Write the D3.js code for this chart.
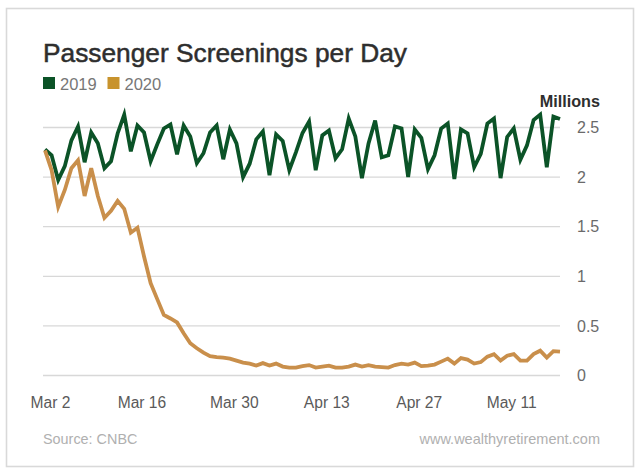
<!DOCTYPE html>
<html>
<head>
<meta charset="utf-8">
<title>Passenger Screenings per Day</title>
<style>
  html, body { margin: 0; padding: 0; background: #fff; }
  text { font-family: "Liberation Sans", sans-serif; }
  .axis path, .axis line { display: none; }
</style>
<script src="https://d3js.org/d3.v7.min.js"></script>
</head>
<body>
<svg width="640" height="472"></svg>
<script>
var series2019 = [2.28,2.22,1.97,2.11,2.37,2.51,2.15,2.45,2.34,2.09,2.16,2.44,2.63,2.26,2.52,2.45,2.16,2.33,2.49,2.53,
  2.23,2.52,2.41,2.14,2.24,2.45,2.52,2.18,2.48,2.34,2.0,2.135,2.38,2.46,2.02,2.43,2.365,2.07,2.25,2.445,
  2.56,2.07,2.42,2.47,2.19,2.28,2.59,2.41,1.99,2.34,2.57,2.2,2.22,2.51,2.49,2.0,2.48,2.395,2.08,2.22,
  2.49,2.54,1.98,2.48,2.44,2.10,2.235,2.54,2.59,1.99,2.405,2.49,2.175,2.32,2.575,2.63,2.10,2.61,2.585];
var series2020 = [2.27,2.07,1.70,1.87,2.09,2.17,1.81,2.09,1.81,1.59,1.66,1.76,1.68,1.44,1.49,1.20,0.93,0.77,0.61,0.575,
  0.535,0.425,0.325,0.275,0.23,0.195,0.185,0.18,0.17,0.15,0.13,0.12,0.10,0.125,0.10,0.12,0.09,0.08,0.08,0.095,
  0.105,0.08,0.09,0.10,0.08,0.08,0.09,0.11,0.09,0.105,0.09,0.085,0.08,0.105,0.12,0.11,0.13,0.095,0.10,0.11,
  0.14,0.17,0.12,0.175,0.16,0.12,0.135,0.19,0.215,0.15,0.20,0.215,0.15,0.15,0.215,0.25,0.18,0.245,0.24];
var yTicks = [0,0.5,1,1.5,2,2.5];
var xTickDays = [0,14,28,42,56,70];
var xTickLabels = ["Mar 2","Mar 16","Mar 30","Apr 13","Apr 27","May 11"];
var legendNames = ["2019","2020"];

var green = "#0b5327", orange = "#c98f4b", legendOrange = "#c8932d";

var svg = d3.select("svg");

// outer frame
svg.append("rect")
   .attr("x",6.5).attr("y",8.5).attr("width",627).attr("height",458)
   .attr("fill","#fff").attr("stroke","#d9d9d9").attr("stroke-width",1.6);

var x = d3.scaleLinear().domain([0,78]).range([45,560]);
var y = d3.scaleLinear().domain([0,2.5]).range([375.5,127.5]);

// gridlines
svg.append("g").selectAll("line").data(yTicks).enter().append("line")
   .attr("x1",43).attr("x2",560)
   .attr("y1",function(d){return y(d);})
   .attr("y2",function(d){return y(d);})
   .attr("stroke","#d8d8d8").attr("stroke-width",1.3);

var xAxis = svg.append("g").attr("class","axis")
   .attr("transform","translate(0,397)")
   .call(d3.axisBottom(x).tickValues(xTickDays).tickSize(0).tickPadding(0)
     .tickFormat(function(d,i){return xTickLabels[i];}));
xAxis.selectAll("text")
   .attr("font-size",15.6).attr("fill","#5a5a5a")
   .style("font-family",'"Liberation Sans", sans-serif')
   .attr("dx",function(d,i){return i==0 ? 5 : 4;});

var yAxis = svg.append("g").attr("class","axis")
   .attr("transform","translate(577,0)")
   .call(d3.axisRight(y).tickValues(yTicks).tickSize(0).tickPadding(0)
     .tickFormat(function(d){return d;}));
yAxis.selectAll("text")
   .attr("font-size",16).attr("fill","#6a6a6a")
   .style("font-family",'"Liberation Sans", sans-serif');

var line = d3.line()
   .x(function(d,i){return x(i);})
   .y(function(d){return y(d);});

svg.append("path").datum(series2019)
   .attr("d",line).attr("fill","none").attr("stroke",green)
   .attr("stroke-width",3.8).attr("stroke-linejoin","miter");
svg.append("path").datum(series2020)
   .attr("d",line).attr("fill","none").attr("stroke",orange)
   .attr("stroke-width",3.8).attr("stroke-linejoin","miter");

// title and legend
svg.append("text").attr("x",43).attr("y",62)
   .attr("font-size",26.3).attr("fill","#2e2e2e")
   .attr("stroke","#2e2e2e").attr("stroke-width",0.5)
   .text("Passenger Screenings per Day");

var legend = svg.append("g").selectAll("g").data(legendNames).enter().append("g")
   .attr("transform",function(d,i){return "translate("+(43+i*64.5)+",77)";});
legend.append("rect").attr("width",12).attr("height",12)
   .attr("fill",function(d,i){return i==0 ? green : legendOrange;});
legend.append("text").attr("x",17).attr("y",12.5)
   .attr("font-size",16.5).attr("fill","#777")
   .text(function(d){return d;});

svg.append("text").attr("x",600).attr("y",107).attr("text-anchor","end")
   .attr("font-size",16.2).attr("font-weight",700).attr("fill","#2e2e2e")
   .text("Millions");

svg.append("text").attr("x",43).attr("y",444)
   .attr("font-size",14.4).attr("fill","#b0b0b0")
   .text("Source: CNBC");
svg.append("text").attr("x",600).attr("y",444).attr("text-anchor","end")
   .attr("font-size",14.5).attr("fill","#b0b0b0")
   .text("www.wealthyretirement.com");
</script>
</body>
</html>
